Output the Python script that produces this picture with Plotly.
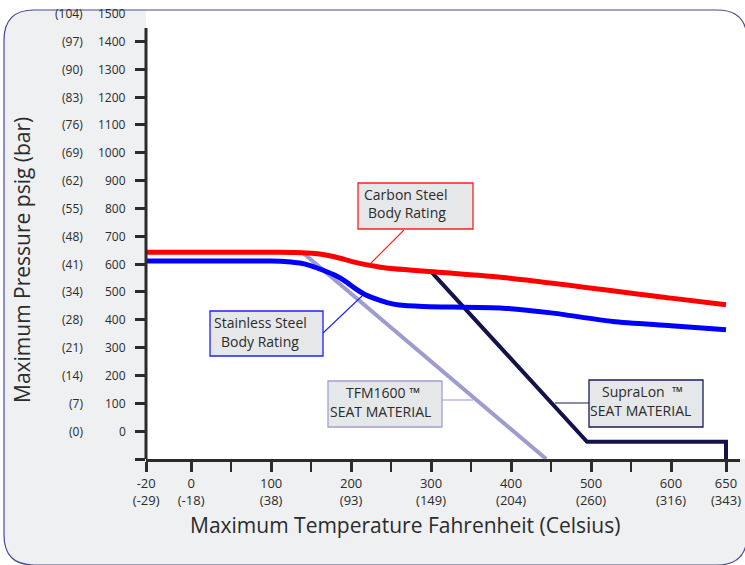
import plotly.graph_objects as go

# ---------------- data (°F, psig) ----------------
cs_temp = [-20, 110, 130, 155, 170, 185, 200, 215, 235, 250, 290, 390, 600, 650]
cs_psig = [643, 643, 642, 638, 632, 622, 610, 600, 590, 584, 575, 552, 478, 454]

ss_temp = [-20, 100, 120, 136, 150, 165, 180, 192, 204, 216, 230, 245, 260, 290, 390, 450, 527, 600, 650]
ss_psig = [611, 611, 609, 604, 594, 578, 560, 540, 515, 493, 476, 462, 453, 448, 442, 425, 394, 379, 364]

tfm_temp = [140, 444]
tfm_psig = [640, -100]

sup_temp = [300, 495, 650, 650]
sup_psig = [573, -38, -38, -100]

x_major_f = [-20, 0, 100, 200, 300, 400, 500, 600, 650]
x_major_c = ["(-29)", "(-18)", "(38)", "(93)", "(149)", "(204)", "(260)", "(316)", "(343)"]
x_minor_f = [50, 150, 250, 350, 450, 550]

y_psig = [0, 100, 200, 300, 400, 500, 600, 700, 800, 900, 1000, 1100, 1200, 1300, 1400, 1500]
y_bar = ["(0)", "(7)", "(14)", "(21)", "(28)", "(34)", "(41)", "(48)", "(55)", "(62)",
         "(69)", "(76)", "(83)", "(90)", "(97)", "(104)"]

# ---------------- layout geometry ----------------
FW, FH = 745, 565
L, R, T, B = 146, 740, 10, 459
TXT = "#2b2b2b"
FONT = "Open Sans"


def fpos(f):
    """Axis position for a Fahrenheit value (the printed axis is stretched at both ends)."""
    if f < 0:
        return f * 56.25 / 20.0
    if f > 600:
        return 600 + (f - 600) * 68.75 / 50.0
    return float(f)


def xp(px):
    return (px - L) / (R - L)


def yp(py):
    return (B - py) / (B - T)


XR = [fpos(-20) - 0.2, (R - 191) / 0.8]
YR = [-100, 1513]

fig = go.Figure()

fig.add_trace(go.Scatter(x=[fpos(t) for t in tfm_temp], y=tfm_psig, mode="lines",
                         line=dict(color="#9c9ccf", width=4), hoverinfo="skip"))
fig.add_trace(go.Scatter(x=[fpos(t) for t in sup_temp], y=sup_psig, mode="lines",
                         line=dict(color="#13134a", width=4), hoverinfo="skip"))
fig.add_trace(go.Scatter(x=[fpos(t) for t in ss_temp], y=ss_psig, mode="lines",
                         line=dict(color="#0000ff", width=5, shape="spline", smoothing=0.7),
                         hoverinfo="skip"))
fig.add_trace(go.Scatter(x=[fpos(t) for t in cs_temp], y=cs_psig, mode="lines",
                         line=dict(color="#ff0000", width=5, shape="spline", smoothing=0.7),
                         hoverinfo="skip"))

# ---------------- background shapes ----------------
def rr_path(x0, y0, x1, y1, r):
    def P(a, b):
        return f"{xp(a):.5f},{yp(b):.5f}"
    return (f"M {P(x0 + r, y0)} L {P(x1 - r, y0)} Q {P(x1, y0)} {P(x1, y0 + r)} "
            f"L {P(x1, y1 - r)} Q {P(x1, y1)} {P(x1 - r, y1)} "
            f"L {P(x0 + r, y1)} Q {P(x0, y1)} {P(x0, y1 - r)} "
            f"L {P(x0, y0 + r)} Q {P(x0, y0)} {P(x0 + r, y0)} Z")

shapes = []
rr = rr_path(4, 10, 747, 565, 30)
shapes.append(dict(type="path", path=rr, xref="paper", yref="paper", layer="below",
                   fillcolor="#eff0f2", line=dict(width=0)))
shapes.append(dict(type="rect", xref="paper", yref="paper", layer="below",
                   x0=xp(146), x1=xp(746), y0=yp(459), y1=yp(10.5),
                   fillcolor="white", line=dict(width=0)))
shapes.append(dict(type="path", path=rr, xref="paper", yref="paper", layer="below",
                   fillcolor="rgba(0,0,0,0)", line=dict(color="#4a4a98", width=1.2)))
# y axis line
shapes.append(dict(type="line", xref="paper", yref="paper", layer="above",
                   x0=0, x1=0, y0=yp(28), y1=yp(459), line=dict(color=TXT, width=3)))

# ---------------- callouts ----------------
def box(x0, y0, x1, y1, color):
    shapes.append(dict(type="rect", xref="paper", yref="paper", layer="above",
                       x0=xp(x0), x1=xp(x1), y0=yp(y1), y1=yp(y0),
                       fillcolor="#e6e7e9", line=dict(color=color, width=1.3)))

def leader(x0, y0, x1, y1, color):
    shapes.append(dict(type="line", xref="paper", yref="paper", layer="above",
                       x0=xp(x0), x1=xp(x1), y0=yp(y0), y1=yp(y1),
                       line=dict(color=color, width=1.1)))

annotations = []

def label(text, px, py, size=14, anchor="left", color=TXT):
    annotations.append(dict(text=text, x=xp(px), y=yp(py), xref="paper", yref="paper",
                            xanchor=anchor, yanchor="middle", showarrow=False,
                            font=dict(family=FONT, size=size, color=color)))

box(358, 183, 473, 229, "#ff2020")
leader(404, 230, 370, 264, "#ff2020")
label("Carbon Steel", 362, 194)
label("Body Rating", 366, 213)

box(210, 311, 323, 356, "#2020ff")
leader(323, 333, 362, 296, "#2020ff")
label("Stainless Steel", 212, 322)
label("Body Rating", 219, 341)

box(328, 381, 442, 427, "#a0a0d4")
leader(442, 400, 473, 400, "#a0a0d4")
label("TFM1600 \u2122", 344, 392)
label("SEAT MATERIAL", 328, 411)

box(589, 380, 703, 427, "#1c1c55")
leader(555, 403, 589, 403, "#1c1c55")
label("SupraLon \u00a0\u2122", 600, 391)
label("SEAT MATERIAL", 588, 410)

# y tick labels (psig and bar columns)
for v, b in zip(y_psig, y_bar):
    annotations.append(dict(text=str(v), x=xp(128), y=v, xref="paper", yref="y",
                            xanchor="right", yanchor="middle", showarrow=False,
                            font=dict(family=FONT, size=12, color=TXT)))
    annotations.append(dict(text=b, x=xp(85), y=v, xref="paper", yref="y",
                            xanchor="right", yanchor="middle", showarrow=False,
                            font=dict(family=FONT, size=12, color=TXT)))

# axis titles
annotations.append(dict(text="Maximum Temperature Fahrenheit (Celsius)", x=xp(405), y=yp(525),
                        xref="paper", yref="paper", xanchor="center", yanchor="middle",
                        showarrow=False, font=dict(family=FONT, size=21, color=TXT)))
annotations.append(dict(text="Maximum Pressure psig (bar)", x=xp(22), y=yp(260),
                        xref="paper", yref="paper", xanchor="center", yanchor="middle",
                        textangle=-90, showarrow=False,
                        font=dict(family=FONT, size=21, color=TXT)))

fig.update_layout(
    width=FW, height=FH,
    margin=dict(l=L, r=FW - R, t=T, b=FH - B),
    paper_bgcolor="white", plot_bgcolor="rgba(0,0,0,0)",
    showlegend=False,
    shapes=shapes, annotations=annotations,
    xaxis=dict(range=XR, showgrid=False, zeroline=False, showline=True,
               linecolor=TXT, linewidth=3,
               tickmode="array", tickvals=[fpos(f) for f in x_major_f],
               ticktext=[f"{f}<br>{c}" for f, c in zip(x_major_f, x_major_c)],
               ticks="outside", ticklen=10, tickwidth=3, tickcolor=TXT,
               tickfont=dict(family=FONT, size=13, color=TXT),
               minor=dict(tickmode="array", tickvals=[fpos(f) for f in x_minor_f],
                          ticks="outside", ticklen=10, tickwidth=1.8, tickcolor=TXT)),
    yaxis=dict(range=YR, showgrid=False, zeroline=False, showline=False,
               tickmode="array", tickvals=[-100] + y_psig[:-1],
               ticks="outside", ticklen=10, tickwidth=3, tickcolor=TXT,
               showticklabels=False),
)

fig.write_html("out.html", config={"displayModeBar": False},
               post_script="document.body.style.margin='0';document.body.style.overflow='hidden';")
